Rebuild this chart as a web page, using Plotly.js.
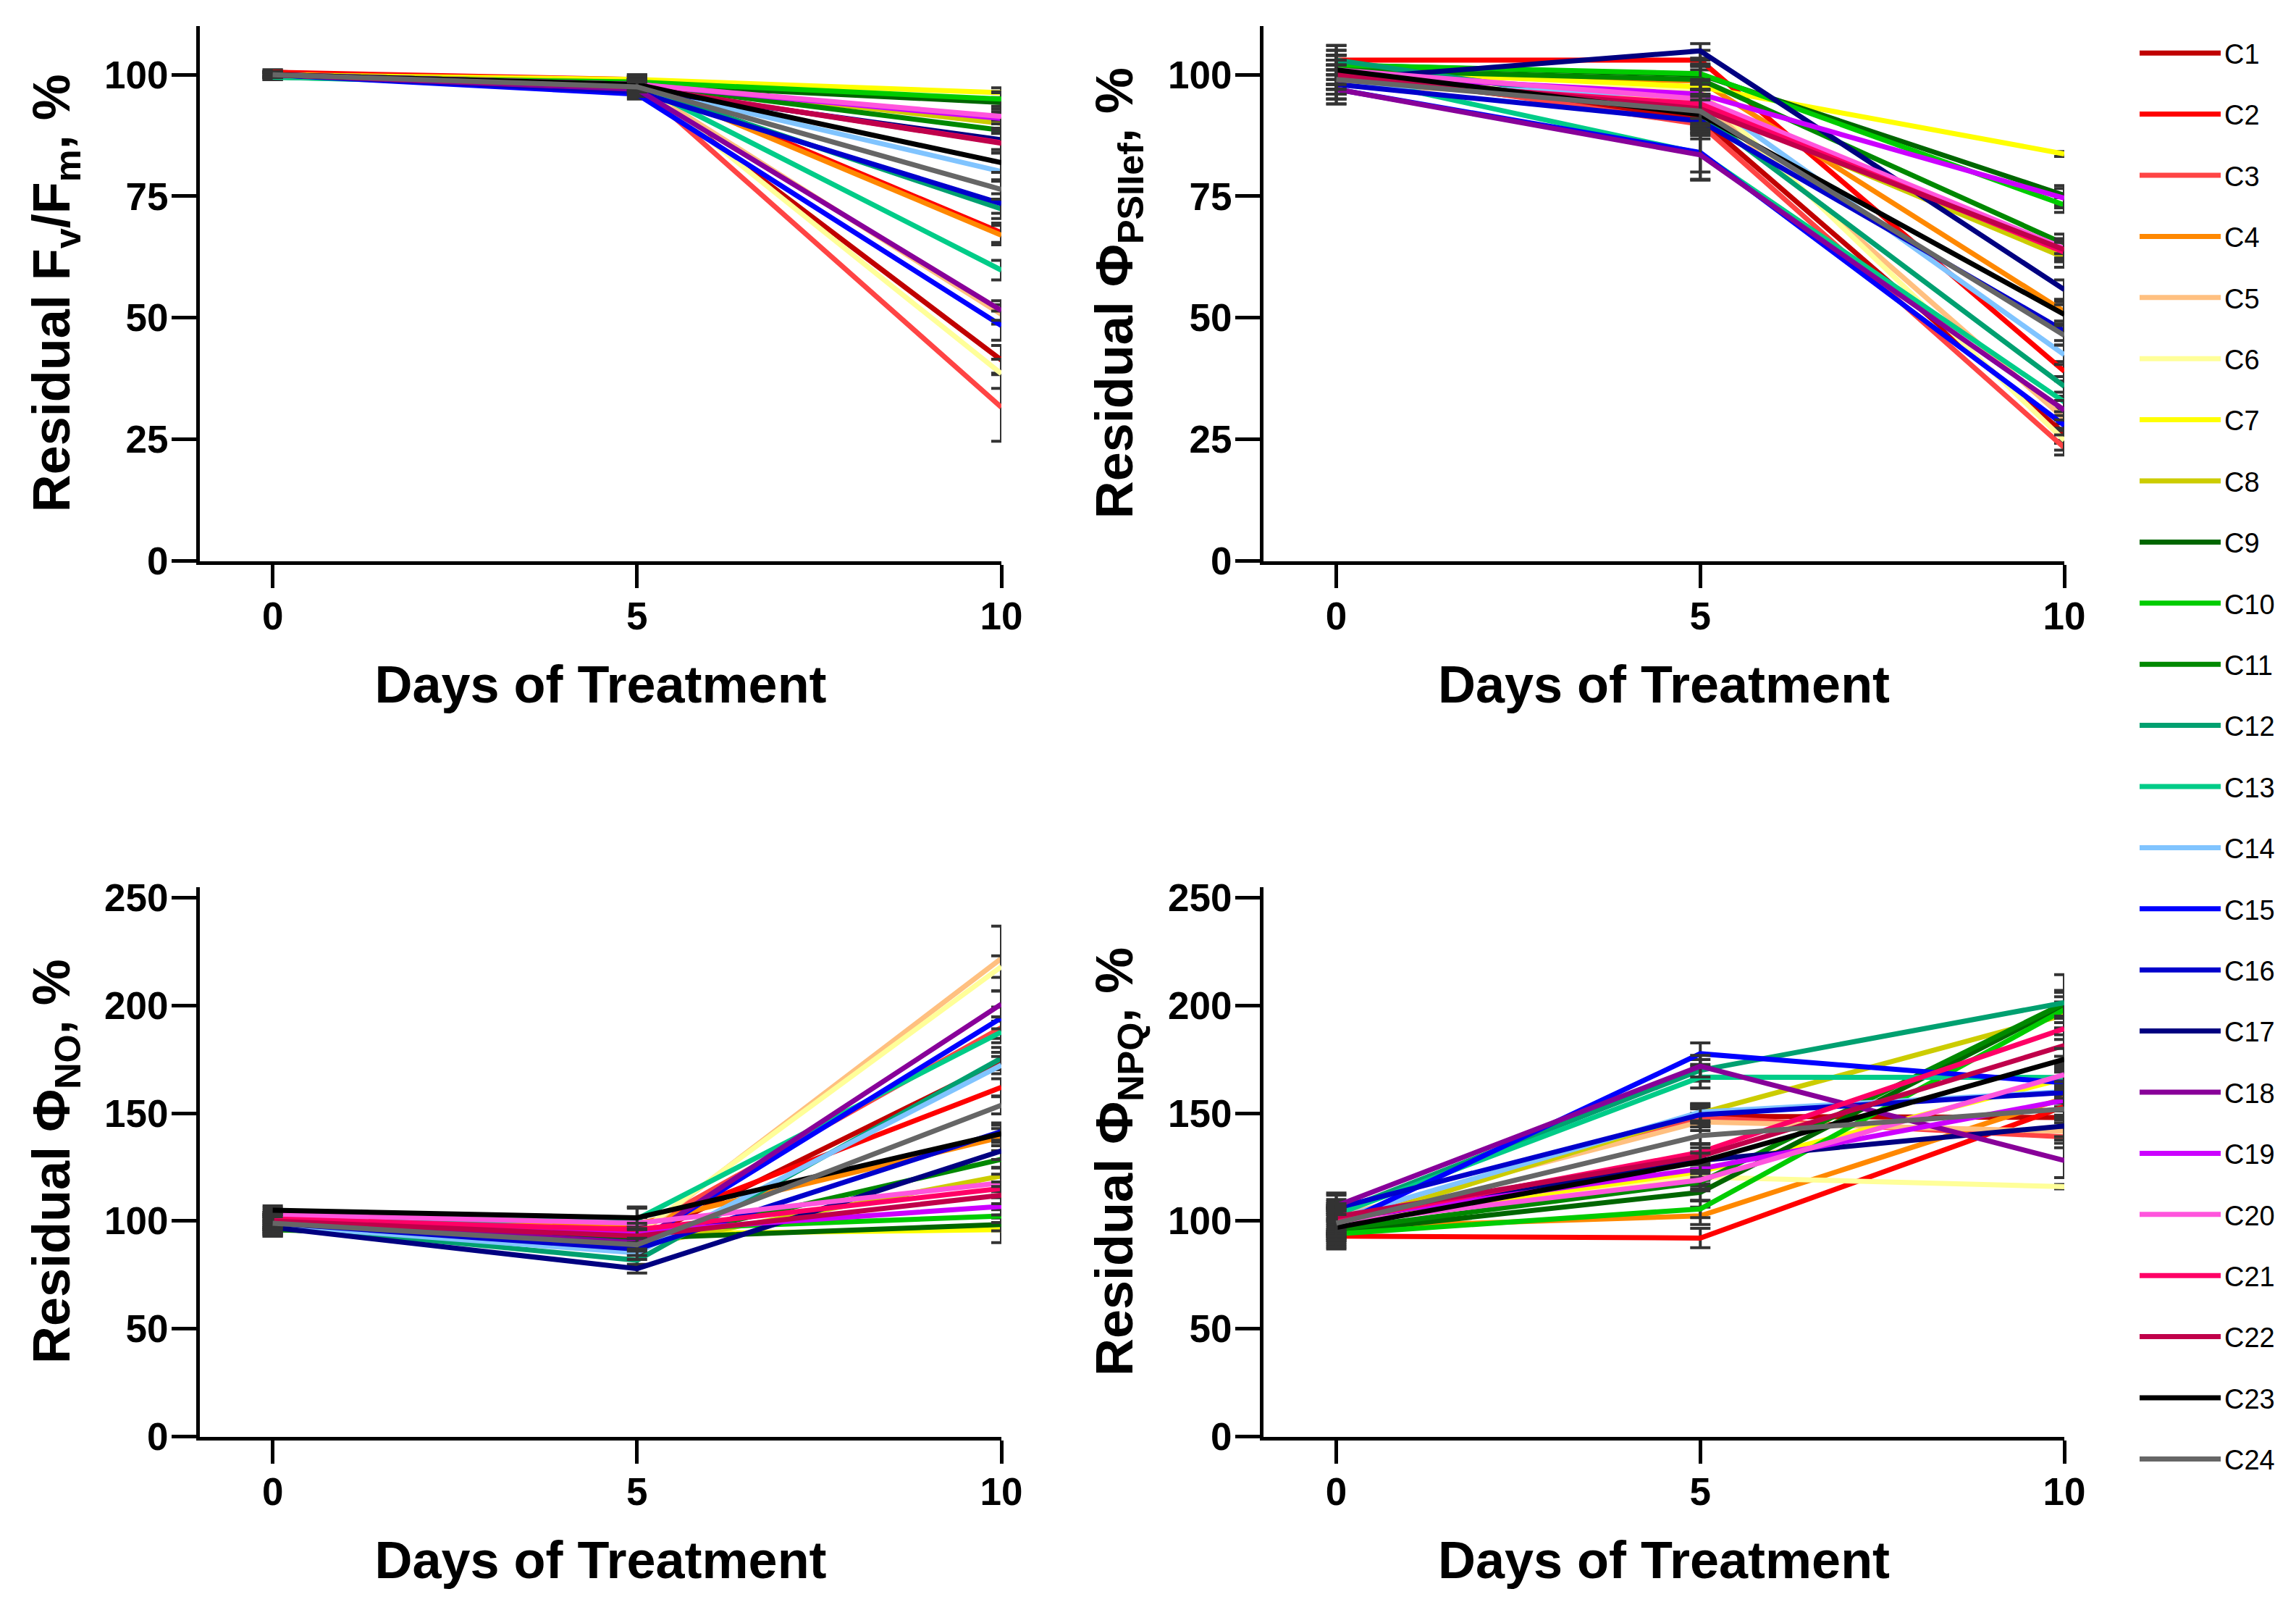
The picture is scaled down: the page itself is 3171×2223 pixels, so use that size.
<!DOCTYPE html>
<html><head><meta charset="utf-8">
<script src="https://cdn.plot.ly/plotly-3.0.1.min.js"></script>
<style>html,body{margin:0;padding:0;background:#fff;}</style>
</head><body>
<div id="chart" style="width:3171px;height:2223px;"></div>
<script>
const days = [0, 5, 10];
const seriesNames = ['C1','C2','C3','C4','C5','C6','C7','C8','C9','C10','C11','C12','C13','C14','C15','C16','C17','C18','C19','C20','C21','C22','C23','C24'];
const seriesColors = ['#C00000','#FF0000','#FF4444','#FF8800','#FFC080','#FFFF99','#FFFF00','#CCCC00','#006600','#00CC00','#008800','#00A070','#00CC88','#80C4FF','#0000FF','#0000CC','#000080','#880099','#CC00FF','#FF55DD','#FF0066','#C0004A','#000000','#666666'];
const yTitles = ['Residual F<sub>v</sub>/F<sub>m</sub>, %', 'Residual Φ<sub>PSIIef</sub>, %', 'Residual Φ<sub>NO</sub>, %', 'Residual Φ<sub>NPQ</sub>, %'];
const xTitle = 'Days of Treatment';

// Panel A: Residual Fv/Fm, %
const fvfmDay0  = [100.5,100.5,100,100,100,100,100,100,100,99.5,100,99.5,99.5,100,100,100,100,100,100,100,100,100,100,100];
const fvfmDay5  = [98,99,98,98.5,98,98.5,99,98.5,98,98.5,98,97.5,98,97.5,96,96.5,97,97,98,98,97.5,97.5,98,97.5];
const fvfmDay10 = [41.3,67.5,31.6,67.0,50.7,38.5,96.3,90.0,94.3,95.0,88.6,72.4,59.8,80.1,48.4,73.5,86.6,51.5,91.0,91.4,86.0,85.9,81.9,76.4];
const fvfmErr0  = [0.5,0.5,0.5,0.5,0.5,0.5,0.5,0.5,0.5,0.5,0.5,0.5,0.5,0.5,0.5,0.5,0.5,0.5,0.5,0.5,0.5,0.5,0.5,0.5];
const fvfmErr5  = [1,1,1,1,1,1,1,1,1,1,1,1,1,1,1,1,1,1,1,1,1,1,1,1];
const fvfmErr10 = [3,2,7,2,2,3,1,2,2,1.5,2,2,2,2,3,2,2,2,2,1.5,2,2,2,2];

// Panel B: Residual ΦPSIIef, %
const psiiDay0  = [100,103,101,100,98,99,101,99,102,102,101,103,100,98,97,98,99,97,100,101,99,100,101,99];
const psiiDay5  = [91.0,103.0,89.8,98.7,94.8,96.7,97.5,93.8,100,100.2,99,92,83.8,95.7,84,90.5,104.9,83.5,96,95,94,93,91.8,92.5];
const psiiDay10 = [26.2,39.0,23.3,51.3,29.3,24.8,83.7,62.4,75.2,73.2,65.2,35.9,32.7,42.4,27.9,47.3,55.8,31.0,74.6,64.3,63.5,64.0,50.7,46.4];
const psiiErr0  = [3,3,3,3,3,3,3,3,3,3,3,3,3,3,3,3,3,3,3,3,3,3,3,3];
const psiiErr5  = [3,2,3,3,3,3,2,3,3,2,3,3,5.5,3,4,3,1.5,5,3,3,3,3,3,3];
const psiiErr10 = [2,2,1.5,2,2,2,0.5,2,2,1.5,2,2,2,2,2,2,2,2,2,2,2,2,2,2];

// Panel C: Residual ΦNO, %
const noDay0  = [100,97,102,100,101,99,98,99,96,97,96,98,99,98,100,99,97,100,101,103,101,100,105,99];
const noDay5  = [90.8,96.9,95,98.6,93,94.1,94,88.5,92,96,90,81.8,100.9,85.2,90,87,77.9,90,95,99,96,93,101.5,89];
const noDay10 = [174.2,162,189.7,138.9,221.8,218,96,120.9,98.4,102.3,128.6,175.5,187.7,172.3,194.2,141.5,132.5,200.6,106.8,117.7,115.1,112,140.5,153.7];
const noErr0  = [3,3,3,3,3,3,3,3,3,3,3,3,3,3,3,3,3,3,3,3,3,3,2,3];
const noErr5  = [3,3,3,3,3,3,3,3,3,3,3,3,5,3,3,3,2,3,3,3,3,3,5,3];
const noErr10 = [4,4,5,4,15,5,6,4,3,3,4,5,5,4,5,4,4,6,4,4,3,4,4,4];

// Panel D: Residual ΦNPQ, %
const npqDay0  = [100,93,101,97,102,100,99,98,95,94,96,104,103,101,98,106,100,107,101,99,100,102,97,99];
const npqDay5  = [148.6,92.1,148,102.4,146,120.4,122.9,150,113.3,105.6,118,169.9,166.7,150.5,177.6,149.3,128.1,171.8,124.2,119,131.9,130,127.5,139.6];
const npqDay10 = [148,153.1,139,157,141.6,115.9,166,195.6,200,198,201,201.3,166.6,160,164.1,159.6,144.1,128.1,156,167.9,189.2,181.4,175,152];
const npqErr0  = [6,6,6,6,6,6,6,6,6,6,6,6,6,6,6,6,6,6,6,6,6,6,6,6];
const npqErr5  = [4,4.5,4,4,4,4,4,4,4,4,4,5,5,4,5,4,4,5,4,4,4,4,4,4];
const npqErr10 = [5,5,5,5,4,1,5,6,6,6,6,13,5,5,5,5,5,8,5,5,5,5,5,5];

const panels = [
  {xa:'x',  ya:'y',  d0:fvfmDay0, d5:fvfmDay5, d10:fvfmDay10, e0:fvfmErr0, e5:fvfmErr5, e10:fvfmErr10, legend:true},
  {xa:'x2', ya:'y2', d0:psiiDay0, d5:psiiDay5, d10:psiiDay10, e0:psiiErr0, e5:psiiErr5, e10:psiiErr10, legend:false},
  {xa:'x3', ya:'y3', d0:noDay0,   d5:noDay5,   d10:noDay10,   e0:noErr0,   e5:noErr5,   e10:noErr10,   legend:false},
  {xa:'x4', ya:'y4', d0:npqDay0,  d5:npqDay5,  d10:npqDay10,  e0:npqErr0,  e5:npqErr5,  e10:npqErr10,  legend:false}
];

const traces = [];
panels.forEach(p => {
  seriesNames.forEach((nm, i) => {
    traces.push({
      type:'scatter', mode:'lines', name:nm, legendgroup:nm,
      showlegend:p.legend,
      x:days, y:[p.d0[i], p.d5[i], p.d10[i]],
      xaxis:p.xa, yaxis:p.ya,
      line:{color:seriesColors[i], width:7},
      error_y:{type:'data', array:[p.e0[i], p.e5[i], p.e10[i]], visible:true, color:'#333333', thickness:4, width:14},
      hoverinfo:'skip'
    });
  });
});

const W = 3171, H = 2223;
const px = v => v / W;
const py = v => 1 - v / H;
const tickFont = {family:'Liberation Sans', size:53, color:'#000', weight:'bold'};
const titleFont = {family:'Liberation Sans', size:72, color:'#000', weight:'bold'};

function xAxis(dom, rng, anchor){
  return {domain:dom, range:rng, anchor:anchor, tickvals:days, ticktext:['0','5','10'],
    showline:true, linewidth:5, linecolor:'#000', ticks:'outside', ticklen:32, tickwidth:5, tickcolor:'#000',
    showgrid:false, zeroline:false, tickfont:tickFont, ticklabelstandoff:-6,
    title:{text:xTitle, font:titleFont, standoff:42}};
}
function yAxis(dom, rng, tv, anchor){
  return {domain:dom, range:rng, anchor:anchor, tickvals:tv,
    showline:true, linewidth:5, linecolor:'#000', ticks:'outside', ticklen:34, tickwidth:5, tickcolor:'#000',
    showgrid:false, zeroline:false, tickfont:tickFont, ticklabelstandoff:-6};
}

const topDom = [py(774.5), py(36)];
const botDom = [py(1983.6), py(1224.5)];
const leftDom = [px(276), px(1383)];
const rightDom = [px(1745), px(2851)];

function yTitleAnn(text, xPx, dom){
  return {text:text, textangle:-90, xref:'paper', yref:'paper', x:px(xPx), y:(dom[0]+dom[1])/2,
    xanchor:'center', yanchor:'middle', showarrow:false, font:titleFont};
}

const layout = {
  width:W, height:H, paper_bgcolor:'#fff', plot_bgcolor:'rgba(0,0,0,0)',
  margin:{l:0, r:0, t:0, b:0},
  showlegend:true,
  legend:{x:px(2950), y:py(42), xanchor:'left', yanchor:'top', font:{family:'Liberation Sans', size:38, color:'#000'},
    tracegroupgap:32, itemwidth:112, bgcolor:'rgba(0,0,0,0)'},
  xaxis:  xAxis(leftDom,  [-1, 10], 'y'),
  yaxis:  yAxis(topDom, [0, 110], [0,25,50,75,100], 'x'),
  xaxis2: xAxis(rightDom, [-1, 10], 'y2'),
  yaxis2: yAxis(topDom, [0, 110], [0,25,50,75,100], 'x2'),
  xaxis3: xAxis(leftDom,  [-1, 10], 'y3'),
  yaxis3: yAxis(botDom, [0, 255], [0,50,100,150,200,250], 'x3'),
  xaxis4: xAxis(rightDom, [-1, 10], 'y4'),
  yaxis4: yAxis(botDom, [0, 255], [0,50,100,150,200,250], 'x4'),
  annotations:[
    yTitleAnn(yTitles[0], 76, topDom),
    yTitleAnn(yTitles[1], 1544, topDom),
    yTitleAnn(yTitles[2], 76, botDom),
    yTitleAnn(yTitles[3], 1544, botDom)
  ]
};

Plotly.newPlot('chart', traces, layout, {staticPlot:true, displayModeBar:false});
</script>
</body></html>
